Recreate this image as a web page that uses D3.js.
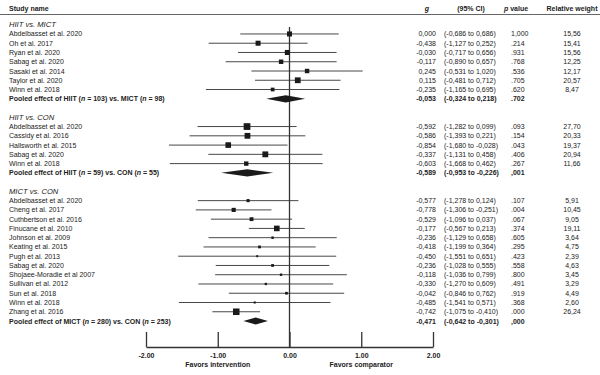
<!DOCTYPE html>
<html>
<head>
<meta charset="utf-8">
<script src="https://cdn.jsdelivr.net/npm/d3@7"></script>
<style>
  body { margin: 0; background: #fff; }
  svg text { font-family: "Liberation Sans", Arial, sans-serif; fill: #222; }
</style>
</head>
<body>
<svg id="chart" width="600" height="375"></svg>
<script>
// group titles and pooled rows
const groups = ['HIIT vs. MICT', 'HIIT vs. CON', 'MICT vs. CON'];
const pooledLabels = [
  ['HIIT', '103', 'MICT', '98', 'vs. '],
  ['HIIT', '59', 'CON', '55', 'vs. '],
  ['MICT', '280', 'CON', '253', 'vs. ']
];

// study rows: [group, name, g, lower, upper, p, weight]
const studies = [
  [0, 'Abdelbasset et al. 2020', 0.000, -0.686, 0.686, '1,000', '15,56'],
  [0, 'Oh et al. 2017', -0.438, -1.127, 0.252, '.214', '15,41'],
  [0, 'Ryan et al. 2020', -0.030, -0.717, 0.656, '.931', '15,56'],
  [0, 'Sabag et al. 2020', -0.117, -0.890, 0.657, '.768', '12,25'],
  [0, 'Sasaki et al. 2014', 0.245, -0.531, 1.020, '.536', '12,17'],
  [0, 'Taylor et al. 2020', 0.115, -0.481, 0.712, '.705', '20,57'],
  [0, 'Winn et al. 2018', -0.235, -1.165, 0.695, '.620', '8,47'],
  [1, 'Abdelbasset et al. 2020', -0.592, -1.282, 0.099, '.093', '27,70'],
  [1, 'Cassidy et al. 2016', -0.586, -1.393, 0.221, '.154', '20,33'],
  [1, 'Hallsworth et al. 2015', -0.854, -1.680, -0.028, '.043', '19,37'],
  [1, 'Sabag et al. 2020', -0.337, -1.131, 0.458, '.406', '20,94'],
  [1, 'Winn et al. 2018', -0.603, -1.668, 0.462, '.267', '11,66'],
  [2, 'Abdelbasset et al. 2020', -0.577, -1.278, 0.124, '.107', '5,91'],
  [2, 'Cheng et al. 2017', -0.778, -1.306, -0.251, '.004', '10,45'],
  [2, 'Cuthbertson et al. 2016', -0.529, -1.096, 0.037, '.067', '9,05'],
  [2, 'Finucane et al. 2010', -0.177, -0.567, 0.213, '.374', '19,11'],
  [2, 'Johnson et al. 2009', -0.236, -1.129, 0.658, '.605', '3,64'],
  [2, 'Keating et al. 2015', -0.418, -1.199, 0.364, '.295', '4,75'],
  [2, 'Pugh et al. 2013', -0.450, -1.551, 0.651, '.423', '2,39'],
  [2, 'Sabag et al. 2020', -0.236, -1.028, 0.555, '.558', '4,63'],
  [2, 'Shojaee-Moradie et al 2007', -0.118, -1.036, 0.799, '.800', '3,45'],
  [2, 'Sullivan et al. 2012', -0.330, -1.270, 0.609, '.491', '3,29'],
  [2, 'Sun et al. 2018', -0.042, -0.846, 0.762, '.919', '4,49'],
  [2, 'Winn et al. 2018', -0.485, -1.541, 0.571, '.368', '2,60'],
  [2, 'Zhang et al. 2016', -0.742, -1.075, -0.410, '.000', '26,24']
];

// pooled: [g, lower, upper, p]
const pooled = [
  [-0.053, -0.324, 0.218, '.702'],
  [-0.589, -0.953, -0.226, ',001'],
  [-0.471, -0.642, -0.301, ',000']
];

const axisTicks = [-2, -1, 0, 1, 2];
const favorLabels = [[-1, 'Favors intervention'], [1, 'Favors comparator']];

const svg = d3.select('#chart');
const FS = 7;

const x = d3.scaleLinear().domain([-2, 2]).range([146, 433]);
const commaFmt = d3.formatLocale({ decimal: ',', thousands: '.', grouping: [3], currency: ['', ''], minus: '-' }).format('.3f');
const tickFmt = d3.formatLocale({ decimal: '.', thousands: ',', grouping: [3], currency: ['', ''], minus: '-' }).format('.2f');

// flatten into rows
const rows = [];
groups.forEach((g, gi) => {
  if (gi > 0) rows.push({ type: 'blank' });
  rows.push({ type: 'title', label: g });
  studies.filter(s => s[0] === gi).forEach(s => rows.push({
    type: 'study', name: s[1], g: s[2], lo: s[3], hi: s[4], p: s[5], w: s[6]
  }));
  const p = pooled[gi];
  rows.push({ type: 'pooled', gi, g: p[0], lo: p[1], hi: p[2], p: p[3] });
});

const y = d3.scaleLinear().domain([0, rows.length - 1]).range([24.7, 24.7 + 9.26 * (rows.length - 1)]);
const weightScale = d3.scaleSqrt().domain([0, 30]).range([0, 7]);
const side = d => weightScale(+d.w.replace(',', '.'));

// header
const hdr = svg.append('g').attr('font-size', FS).attr('font-weight', 'bold');
hdr.append('text').attr('x', 9).attr('y', 11).text('Study name');
hdr.append('text').attr('x', 427).attr('y', 11).attr('text-anchor', 'middle').attr('font-style', 'italic').text('g');
hdr.append('text').attr('x', 471).attr('y', 11).attr('text-anchor', 'middle').text('(95% CI)');
const pv = hdr.append('text').attr('x', 516).attr('y', 11).attr('text-anchor', 'middle');
pv.append('tspan').attr('font-style', 'italic').text('p');
pv.append('tspan').text(' value');
hdr.append('text').attr('x', 572).attr('y', 11).attr('text-anchor', 'middle').text('Relative weight');
svg.append('line').attr('x1', 0).attr('x2', 600).attr('y1', 14.5).attr('y2', 14.5)
  .attr('stroke', '#666').attr('stroke-width', 1.2);

// zero line
svg.append('line').attr('x1', x(0)).attr('x2', x(0)).attr('y1', 27).attr('y2', 347)
  .attr('stroke', '#333').attr('stroke-width', 1.3);

const rowG = svg.selectAll('g.row').data(rows).join('g')
  .attr('class', 'row')
  .attr('transform', (d, i) => `translate(0,${y(i)})`);

rowG.filter(d => d.type === 'title').append('text')
  .attr('x', 9).attr('y', 2.5).attr('font-size', FS + 0.6).attr('font-style', 'italic')
  .text(d => d.label);

const st = rowG.filter(d => d.type === 'study');
st.append('text').attr('x', 9).attr('y', 2.5).attr('font-size', FS).text(d => d.name);
st.append('line')
  .attr('x1', d => x(d.lo)).attr('x2', d => x(d.hi))
  .attr('stroke', '#333').attr('stroke-width', 0.9);
st.append('rect')
  .attr('x', d => x(d.g) - side(d) / 2)
  .attr('y', d => -side(d) / 2)
  .attr('width', side)
  .attr('height', side)
  .attr('fill', '#1a1a1a');

const po = rowG.filter(d => d.type === 'pooled');
const pl = po.append('text').attr('x', 9).attr('y', 2.5).attr('font-size', FS).attr('font-weight', 'bold');
pl.each(function (d) {
  const t = d3.select(this);
  const L = pooledLabels[d.gi];
  t.append('tspan').text(`Pooled effect of ${L[0]} (`);
  t.append('tspan').attr('font-style', 'italic').text('n');
  t.append('tspan').text(` = ${L[1]}) ${L[4]}${L[2]} (`);
  t.append('tspan').attr('font-style', 'italic').text('n');
  t.append('tspan').text(` = ${L[3]})`);
});
po.append('path')
  .attr('d', d => `M${x(d.lo)},0L${x(d.g)},-3.6L${x(d.hi)},0L${x(d.g)},3.6Z`)
  .attr('fill', '#1a1a1a');

// numeric columns
const num = rowG.filter(d => d.type === 'study' || d.type === 'pooled');
num.append('text').attr('x', 436).attr('y', 2.5).attr('text-anchor', 'end').attr('font-size', FS)
  .attr('font-weight', d => d.type === 'pooled' ? 'bold' : null)
  .text(d => commaFmt(d.g));
num.append('text').attr('x', 444).attr('y', 2.5).attr('font-size', FS)
  .attr('font-weight', d => d.type === 'pooled' ? 'bold' : null)
  .text(d => `(${commaFmt(d.lo)} to ${commaFmt(d.hi)})`);
num.append('text').attr('x', 511).attr('y', 2.5).attr('font-size', FS)
  .attr('font-weight', d => d.type === 'pooled' ? 'bold' : null)
  .text(d => d.p);
st.append('text').attr('x', 572).attr('y', 2.5).attr('text-anchor', 'middle').attr('font-size', FS)
  .text(d => d.w);

// axis
const axis = svg.append('g').attr('transform', 'translate(0,347)')
  .call(d3.axisBottom(x).tickValues(axisTicks).tickFormat(tickFmt).tickSizeInner(-15).tickSizeOuter(0).tickPadding(6));
axis.select('.domain').attr('stroke', '#333').attr('stroke-width', 1.3);
axis.selectAll('.tick line').attr('stroke', '#333').attr('stroke-width', 1.3);
axis.selectAll('.tick text').attr('font-size', FS).attr('font-weight', 'bold')
  .attr('font-family', '"Liberation Sans", Arial, sans-serif').attr('fill', '#222');

svg.append('g').selectAll('text').data(favorLabels).join('text')
  .attr('x', d => x(d[0])).attr('y', 367).attr('text-anchor', 'middle')
  .attr('font-size', FS).attr('font-weight', 'bold')
  .text(d => d[1]);
</script>
</body>
</html>
